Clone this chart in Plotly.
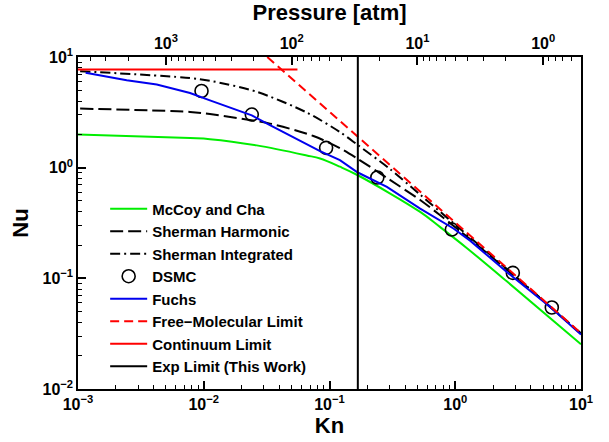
import numpy as np
import plotly.graph_objects as go

# ---- Nusselt number versus Knudsen number for each model ----
mccoy_kn = [0.001, 0.00778, 0.0112, 0.0264, 0.0659, 0.0841, 0.121, 0.168, 0.526, 0.759, 1.24, 2.57, 10.0]
mccoy_nu = [1.99, 1.85, 1.81, 1.59, 1.29, 1.21, 1.02, 0.854, 0.398, 0.29, 0.187, 0.094, 0.0254]

harm_kn = [0.00104, 0.00778, 0.0112, 0.0336, 0.0745, 0.121, 0.168, 0.3, 0.526, 1.0, 2.87, 5.86, 10.0]
harm_nu = [3.42, 3.19, 3.05, 2.50, 1.93, 1.50, 1.20, 0.78, 0.51, 0.29, 0.108, 0.0535, 0.0315]

integ_kn = [0.00104, 0.00778, 0.0112, 0.0264, 0.0659, 0.121, 0.168, 0.3, 0.526, 1.0, 2.87, 5.86, 10.0]
integ_nu = [7.45, 6.46, 6.1, 4.85, 3.15, 2.1, 1.6, 0.98, 0.57, 0.305, 0.109, 0.054, 0.0318]

dsmc_kn = [0.0096, 0.0241, 0.094, 0.24, 0.94, 2.87, 5.86]
dsmc_nu = [4.93, 3.02, 1.51, 0.815, 0.276, 0.112, 0.0545]

fuchs_kn = [0.00115, 0.00244, 0.00423, 0.00778, 0.0112, 0.0241, 0.0336, 0.0841, 0.121, 0.168,
            0.286, 0.526, 0.968, 1.32, 2.57, 5.69, 10.0]
fuchs_nu = [7.2, 6.16, 5.64, 4.73, 4.06, 2.97, 2.42, 1.41, 1.17, 0.904,
            0.67, 0.427, 0.282, 0.218, 0.114, 0.0552, 0.031]

fm_kn = [0.032, 10.0]
fm_nu = [10.0, 0.032]

cont_kn = [0.001, 0.0556]
cont_nu = [7.7, 7.7]

exp_kn = [0.168, 0.168]
exp_nu = [0.01, 10.0]

# pressure [atm] = KN_PRESSURE / Kn
KN_PRESSURE = 5.0

kn_ticks = [0.001, 0.01, 0.1, 1, 10]
kn_labels = ["10<sup>−3</sup>", "10<sup>−2</sup>", "10<sup>−1</sup>", "10<sup>0</sup>", "10<sup>1</sup>"]
nu_ticks = [0.01, 0.1, 1, 10]
nu_labels = ["10<sup>−2</sup>", "10<sup>−1</sup>", "10<sup>0</sup>", "10<sup>1</sup>"]
p_ticks = [1000, 100, 10, 1]
p_labels = ["10<sup>3</sup>", "10<sup>2</sup>", "10<sup>1</sup>", "10<sup>0</sup>"]


def minor_vals(lo, hi):
    return [m * 10.0 ** e for e in range(lo, hi) for m in range(2, 10)]


FONT = "Liberation Sans, Arial, Helvetica, sans-serif"

fig = go.Figure()
fig.add_trace(go.Scatter(x=mccoy_kn, y=mccoy_nu, mode="lines", name="McCoy and Cha",
                         line=dict(color="#00ee00", width=2, shape="spline", smoothing=1.0)))
fig.add_trace(go.Scatter(x=harm_kn, y=harm_nu, mode="lines", name="Sherman Harmonic",
                         line=dict(color="black", width=2, dash="13px,5px", shape="spline", smoothing=0.8)))
fig.add_trace(go.Scatter(x=integ_kn, y=integ_nu, mode="lines", name="Sherman Integrated",
                         line=dict(color="black", width=2, dash="10px,4px,2px,4px", shape="spline", smoothing=0.8)))
fig.add_trace(go.Scatter(x=dsmc_kn, y=dsmc_nu, mode="markers", name="DSMC",
                         marker=dict(symbol="circle-open", size=13, color="black", line=dict(width=1.6))))
fig.add_trace(go.Scatter(x=fuchs_kn, y=fuchs_nu, mode="lines", name="Fuchs",
                         line=dict(color="#0000ee", width=2)))
fig.add_trace(go.Scatter(x=fm_kn, y=fm_nu, mode="lines", name="Free−Molecular Limit",
                         line=dict(color="#ff0000", width=2, dash="9px,5px")))
fig.add_trace(go.Scatter(x=cont_kn, y=cont_nu, mode="lines", name="Continuum Limit",
                         line=dict(color="#ff0000", width=2)))
fig.add_trace(go.Scatter(x=exp_kn, y=exp_nu, mode="lines", name="Exp Limit (This Work)",
                         line=dict(color="black", width=2)))
# pressure axis carrier (transparent)
fig.add_trace(go.Scatter(x=[KN_PRESSURE / k for k in exp_kn], y=exp_nu, xaxis="x2", mode="lines",
                         line=dict(width=0), opacity=0, showlegend=False, hoverinfo="skip"))

tickfont = dict(family=FONT, size=16, color="black", weight="bold")
titlefont = dict(family=FONT, size=22, color="black", weight="bold")

fig.update_layout(
    width=609, height=442,
    margin=dict(l=78, r=28, t=57, b=53),
    paper_bgcolor="white", plot_bgcolor="white",
    font=dict(family=FONT, color="black"),
    xaxis=dict(type="log", range=[-3, 1], tickmode="array", tickvals=kn_ticks, ticktext=kn_labels,
               ticks="inside", ticklen=8, tickwidth=1.5, tickcolor="black",
               showline=True, linecolor="black", linewidth=1.5, mirror=True,
               showgrid=False, zeroline=False, tickfont=tickfont,
               minor=dict(tickmode="array", tickvals=minor_vals(-3, 1), ticks="inside", ticklen=4,
                          tickwidth=1, tickcolor="black", showgrid=False),
               title=dict(text="Kn", font=titlefont, standoff=2)),
    xaxis2=dict(type="log", overlaying="x", side="top", anchor="y",
                range=[np.log10(KN_PRESSURE / 0.001), np.log10(KN_PRESSURE / 10.0)],
                tickmode="array", tickvals=p_ticks, ticktext=p_labels,
                ticks="inside", ticklen=8, tickwidth=1.5, tickcolor="black",
                showline=True, linecolor="black", linewidth=1.5,
                showgrid=False, zeroline=False, tickfont=tickfont,
                minor=dict(tickmode="array", tickvals=minor_vals(-1, 4), ticks="inside", ticklen=4,
                           tickwidth=1, tickcolor="black", showgrid=False),
                title=dict(text="Pressure [atm]", font=titlefont, standoff=6)),
    yaxis=dict(type="log", range=[-2, 1], tickmode="array", tickvals=nu_ticks, ticktext=nu_labels,
               ticks="inside", ticklen=8, tickwidth=1.5, tickcolor="black",
               showline=True, linecolor="black", linewidth=1.5, mirror=True,
               showgrid=False, zeroline=False, tickfont=tickfont,
               minor=dict(tickmode="array", tickvals=minor_vals(-2, 1), ticks="inside", ticklen=4,
                          tickwidth=1, tickcolor="black", showgrid=False),
               title=dict(text="Nu", font=titlefont, standoff=8)),
    legend=dict(x=0.054, y=0.592, xanchor="left", yanchor="top", bgcolor="rgba(0,0,0,0)",
                borderwidth=0, font=dict(family=FONT, size=15, color="black", weight="bold"),
                itemwidth=37),
    showlegend=True,
)

fig.write_html("out.html")
